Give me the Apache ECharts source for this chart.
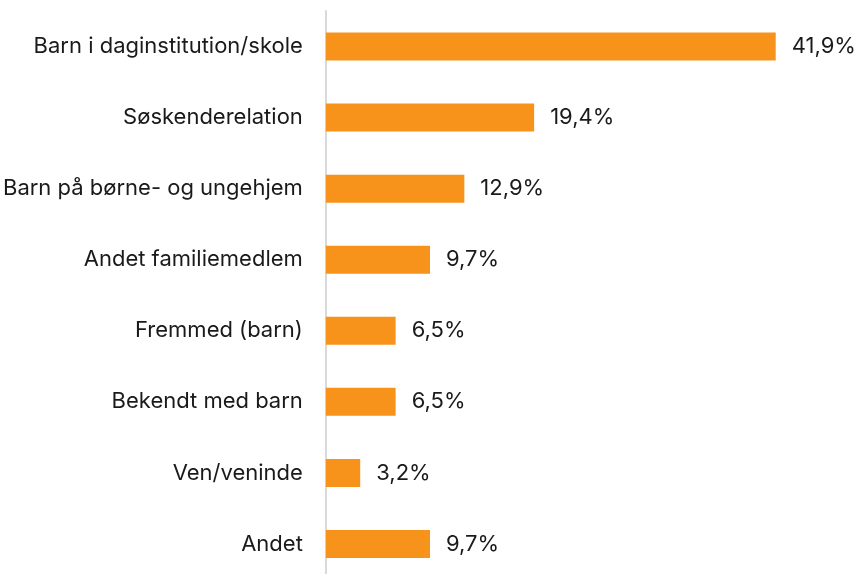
<!DOCTYPE html>
<html>
<head>
<meta charset="utf-8">
<script src="https://cdn.jsdelivr.net/npm/echarts@6/dist/echarts.min.js"></script>
<style>
  html, body { margin: 0; padding: 0; background: #fff; overflow: hidden; }
  #chart { width: 858px; height: 600px; }
</style>
</head>
<body>
<div id="chart"></div>
<script>
// kategorier, øverst først
var categories = ['Barn i daginstitution/skole', 'Søskenderelation', 'Barn på børne- og ungehjem', 'Andet familiemedlem', 'Fremmed (barn)', 'Bekendt med barn', 'Ven/veninde', 'Andet'];
var values = [41.9, 19.4, 12.9, 9.7, 6.5, 6.5, 3.2, 9.7];

var dom = document.getElementById('chart');
var myChart = echarts.init(dom, null, { renderer: 'canvas' });

var font = 'Inter, "Noto Sans", sans-serif';

var option = {
    animation: false,
    grid: {
        left: 325,
        width: 484,
        top: 11,
        height: 568.5
    },
    xAxis: {
        type: 'value',
        min: 0,
        max: 45,
        show: false
    },
    yAxis: {
        type: 'category',
        inverse: true,
        data: categories,
        axisLine: { show: true, lineStyle: { color: '#d9d9d9', width: 2 } },
        axisTick: { show: false },
        axisLabel: {
            margin: 23,
            fontSize: 22,
            color: '#1a1a1a',
            fontFamily: font
        }
    },
    series: [
        {
            type: 'bar',
            data: values,
            barWidth: 28,
            itemStyle: { color: '#f7931a' },
            label: {
                show: true,
                position: 'right',
                distance: 16,
                fontSize: 22,
                color: '#1a1a1a',
                fontFamily: font,
                formatter: function (p) {
                    return p.value.toFixed(1).replace('.', ',') + '%';
                }
            }
        }
    ]
};
myChart.setOption(option);
window.addEventListener('resize', myChart.resize);
</script>
</body>
</html>
